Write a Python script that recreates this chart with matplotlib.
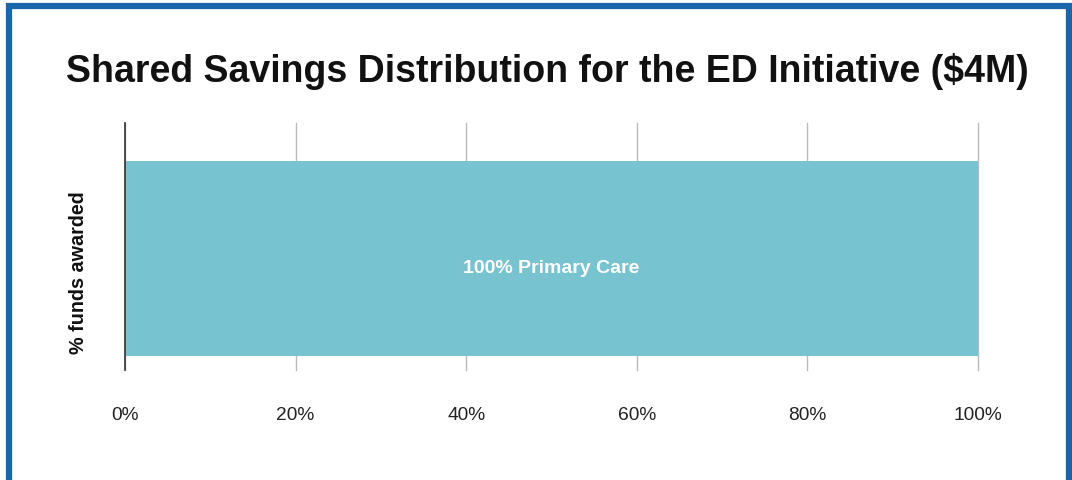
import matplotlib
matplotlib.use("Agg")
import matplotlib.pyplot as plt
from matplotlib.patches import Rectangle

categories = ["% funds awarded"]
values = [100]
bar_labels = ["100% Primary Care"]
xticks = [0, 20, 40, 60, 80, 100]
xtick_labels = ["0%", "20%", "40%", "60%", "80%", "100%"]
title = "Shared Savings Distribution for the ED Initiative ($4M)"

plt.rcParams['font.family'] = ['Liberation Sans', 'DejaVu Sans']

W, H = 1072, 480
fig = plt.figure(figsize=(W/100, H/100), dpi=100)
fig.patch.set_facecolor('white')

# blue frame
fig.patches.append(Rectangle((9/W, -0.1), (1068.5-9)/W, 1.1 - 5.5/H,
                             transform=fig.transFigure, fill=False,
                             edgecolor='#1b66ab', linewidth=4.5, zorder=10))

ax = fig.add_axes([125/W, 1 - 370/H, (978-125)/W, (370-123)/H])
ax.barh([0], values, height=0.8, color='#77c3cf', zorder=2)
for v, lab in zip(values, bar_labels):
    ax.text(v/2, -0.041, lab, ha='center', va='center', color='white',
            fontsize=14, fontweight='bold', zorder=3)

ax.set_xlim(0, 100)
ax.set_ylim(-0.457, 0.558)
ax.set_xticks(xticks)
ax.set_xticklabels(xtick_labels, fontsize=13.8, color='#222222')
ax.set_yticks([])
ax.tick_params(axis='x', length=0, pad=27)
ax.grid(axis='x', color='#bbbbbb', linewidth=1, zorder=1)
for gl in ax.get_xgridlines():
    gl.set_clip_on(False)
for s in ['top', 'right', 'bottom']:
    ax.spines[s].set_visible(False)
ax.spines['left'].set_color('#333333')
ax.spines['left'].set_linewidth(1.2)
ax.spines['left'].set_zorder(4)

fig.text(78/W, 1 - 273/H, categories[0], rotation=90, ha='center', va='center',
         fontsize=14.2, fontweight='bold', color='#111111')

fig.text(547/W, 1 - 71/H, title, ha='center', va='center',
         fontsize=27, fontweight='bold', color='#111111')

fig.savefig("out.png", dpi=100)
